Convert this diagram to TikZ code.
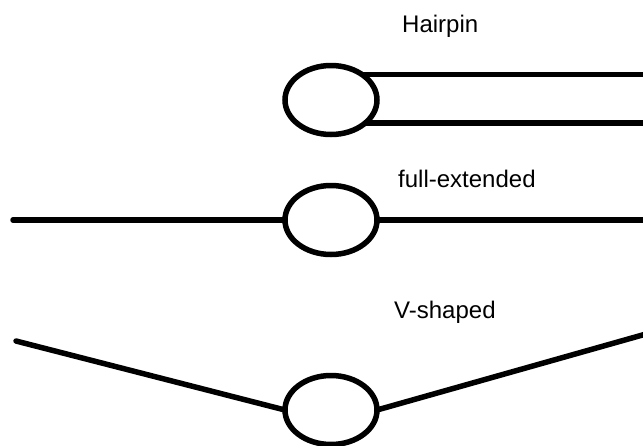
\documentclass[tikz,border=0pt]{standalone}
\usepackage{fontspec}
\setmainfont{Liberation Sans}
\usetikzlibrary{shapes.geometric}
\begin{document}
\begin{tikzpicture}[x=1pt,y=-1pt,
  loopnode/.style={ellipse,draw,line width=5.5pt,minimum width=92pt,minimum height=69pt,inner sep=0pt,outer sep=0pt},
  strand/.style={line width=5.5pt,line cap=round},
  lbl/.style={anchor=base west,inner sep=0pt,font=\fontsize{24}{28}\selectfont}]
\useasboundingbox[fill=white] (0,0) rectangle (643,445);
% Hairpin
\node[lbl] (t1) at (402,32) {Hairpin};
\node[loopnode] (h) at (331,100) {};
\coordinate (hR) at (646,100);
\draw[strand,line cap=butt] (h.39) -- (h.39 -| hR);
\draw[strand,line cap=butt] (h.-34) -- (h.-34 -| hR);
% full-extended
\node[lbl] (t2) at (398,187) {full-extended};
\node[loopnode] (f) at (331,220) {};
\coordinate (fL) at (13,220);
\coordinate (fR) at (646,220);
\draw[strand] (fL) -- (f.west);
\draw[strand,line cap=butt] (f.east) -- (fR);
% V-shaped
\node[lbl] (t3) at (394,318) {V-shaped};
\node[loopnode] (v) at (331,410) {};
\coordinate (vL) at (16,341);
\coordinate (vR) at (646,334);
\draw[strand] (vL) -- (v.west);
\draw[strand,line cap=butt] (v.east) -- (vR);
\end{tikzpicture}
\end{document}
